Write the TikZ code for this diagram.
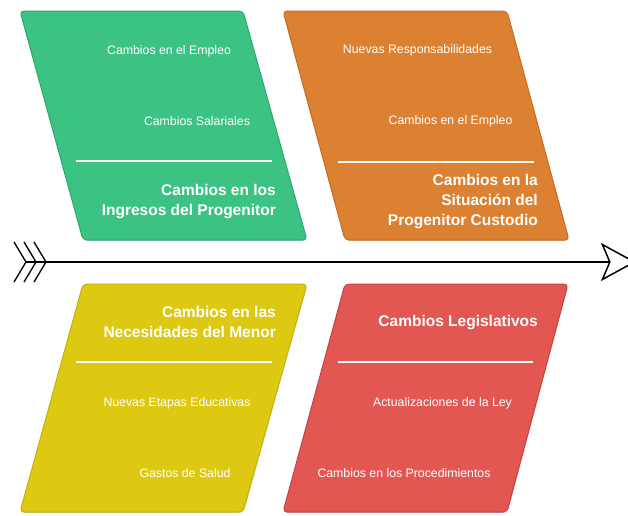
\documentclass[tikz,border=0pt]{standalone}
\usepackage{fontspec}
\setmainfont{Liberation Sans}
\usetikzlibrary{arrows.meta,shadows}
\definecolor{gfill}{HTML}{3CC384}
\definecolor{gline}{HTML}{2BA96B}
\definecolor{ofill}{HTML}{DC8131}
\definecolor{oline}{HTML}{C46C21}
\definecolor{yfill}{HTML}{DEC912}
\definecolor{yline}{HTML}{C4B10A}
\definecolor{rfill}{HTML}{E35753}
\definecolor{rline}{HTML}{C6403C}
\begin{document}
\begin{tikzpicture}[x=1pt,y=-1pt,
  panel/.style={line width=1pt, rounded corners=4pt,
    drop shadow={opacity=0.22, shadow xshift=0.6pt, shadow yshift=-1.2pt}},
  itemtxt/.style={text=white, font=\fontsize{12.3}{15}\selectfont, inner sep=0pt},
  titletxt/.style={text=white, font=\fontsize{15.5}{20}\selectfont\bfseries, align=right, anchor=east, inner sep=0pt},
  sepline/.style={draw=white, line width=1.4pt},
  axisline/.style={line width=1.5pt, black},
  tailline/.style={line width=1.3pt, black},
]
\useasboundingbox (0,0) rectangle (628,515);

% panels
\filldraw[panel, fill=gfill, draw=gline] (20,11) -- (243,11) -- (307,240) -- (83,240) -- cycle;
\filldraw[panel, fill=ofill, draw=oline] (283,11) -- (507,11) -- (569,240) -- (345,240) -- cycle;
\filldraw[panel, fill=yfill, draw=yline] (83,284) -- (307,284) -- (243,512) -- (20,512) -- cycle;
\filldraw[panel, fill=rfill, draw=rline] (345,284) -- (568,284) -- (507,512) -- (283,512) -- cycle;

% separators
\coordinate (gs1) at (76,161); \coordinate (gs2) at (272,161);
\coordinate (os1) at (338,162); \coordinate (os2) at (534,162);
\coordinate (ys1) at (76,362); \coordinate (ys2) at (272,362);
\coordinate (rs1) at (338,362); \coordinate (rs2) at (533,362);
\draw[sepline] (gs1) -- (gs2);
\draw[sepline] (os1) -- (os2);
\draw[sepline] (ys1) -- (ys2);
\draw[sepline] (rs1) -- (rs2);

% green texts
\node[itemtxt] (g1) at (169,51) {Cambios en el Empleo};
\node[itemtxt] (g2) at (197,121) {Cambios Salariales};
\node[titletxt] (gt) at (276,202) {Cambios en los\\Ingresos del Progenitor};

% orange texts
\node[itemtxt] (o1) at (417.5,50) {Nuevas Responsabilidades};
\node[itemtxt] (o2) at (450.5,121) {Cambios en el Empleo};
\node[titletxt] (ot) at (538,201.5) {Cambios en la\\Situación del\\Progenitor Custodio};

% yellow texts
\node[titletxt] (yt) at (276,322) {Cambios en las\\Necesidades del Menor};
\node[itemtxt] (y1) at (177,403) {Nuevas Etapas Educativas};
\node[itemtxt] (y2) at (185,473) {Gastos de Salud};

% red texts
\node[titletxt] (rt) at (538,323) {Cambios Legislativos};
\node[itemtxt] (r1) at (442.5,403) {Actualizaciones de la Ley};
\node[itemtxt] (r2) at (404,473) {Cambios en los Procedimientos};

% spine
\coordinate (tail) at (26,262);
\coordinate (head) at (636,262);
\draw[axisline, -{Stealth[open, length=35pt, width=38pt, inset=8pt]}] (tail) -- (head);

% tail feathers
\coordinate (c1) at (26,262); \coordinate (c1a) at (14,242); \coordinate (c1b) at (14,282);
\coordinate (c2) at (36,262); \coordinate (c2a) at (24,242); \coordinate (c2b) at (24,282);
\coordinate (c3) at (46,262); \coordinate (c3a) at (34,242); \coordinate (c3b) at (34,282);
\draw[tailline] (c1a) -- (c1) -- (c1b);
\draw[tailline] (c2a) -- (c2) -- (c2b);
\draw[tailline] (c3a) -- (c3) -- (c3b);
\end{tikzpicture}
\end{document}
